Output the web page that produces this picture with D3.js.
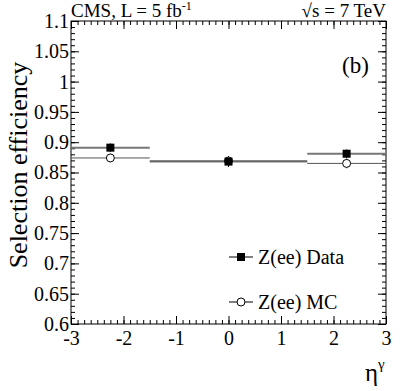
<!DOCTYPE html>
<html>
<head>
<meta charset="utf-8">
<script src="https://cdn.jsdelivr.net/npm/d3@7"></script>
<style>
body { margin: 0; background: #fff; }
svg text { font-family: "Liberation Serif", "DejaVu Serif", serif !important; fill: #000; }
</style>
</head>
<body>
<svg width="407" height="391"></svg>
<script>
// bins in eta^gamma
var binLow = [-3, -1.5, 1.5],
    binHigh = [-1.5, 1.5, 3],
    binCenter = [-2.25, 0, 2.25];

var dataEff = [0.891, 0.868, 0.881],
    dataErr = [0.007, 0.009, 0.007];
var mcEff = [0.874, 0.869, 0.865],
    mcErr = [0.007, 0.008, 0.008];

var xTicks = [-3, -2, -1, 0, 1, 2, 3];
var xLabels = ["-3", "-2", "-1", "0", "1", "2", "3"];
var yTicks = [0.6, 0.65, 0.7, 0.75, 0.8, 0.85, 0.9, 0.95, 1, 1.05, 1.1];
var yLabels = ["0.6", "0.65", "0.7", "0.75", "0.8", "0.85", "0.9", "0.95", "1", "1.05", "1.1"];

var svg = d3.select("svg"),
    margin = {top: 21, right: 21, bottom: 67, left: 71},
    width = svg.attr("width") - margin.left - margin.right,
    height = svg.attr("height") - margin.top - margin.bottom,
    g = svg.append("g").attr("transform", "translate(" + margin.left + "," + margin.top + ")");

var scaleX = d3.scaleLinear().domain([-3, 3]).range([0, width]),
    scaleY = d3.scaleLinear().domain([0.6, 1.1]).range([height, 0]);

var minorX = d3.range(-3, 3.0001, 0.125),
    minorY = d3.range(0.6, 1.1001, 0.01);

// axes: bottom/left with labels, top/right mirrored (ticks point inwards)
function drawAxis(axisFn, scale, majors, minors, transform, labels) {
    var a = g.append("g").attr("transform", transform);
    a.call(axisFn(scale).tickValues(minors).tickSize(4).tickFormat(""));
    var b = g.append("g").attr("transform", transform);
    b.call(axisFn(scale).tickValues(majors).tickSize(8).tickPadding(2)
        .tickFormat(function (d, i) { return labels ? labels[i] : ""; }));
    [a, b].forEach(function (s) {
        s.attr("font-family", null);
        s.select(".domain").remove();
        s.selectAll("line").attr("stroke", "#000");
    });
    b.selectAll("text").style("font-size", "20px").attr("fill", "#000");
    return b;
}

var ax = drawAxis(function (s) { return d3.axisTop(s); }, scaleX, xTicks, minorX, "translate(0," + height + ")", xLabels);
ax.selectAll("text").attr("dy", "0.95em").attr("y", 2);
drawAxis(function (s) { return d3.axisBottom(s); }, scaleX, xTicks, minorX, "translate(0,0)", null);
var ay = drawAxis(function (s) { return d3.axisRight(s); }, scaleY, yTicks, minorY, "translate(0,0)", yLabels);
ay.selectAll("text").attr("x", -2).attr("text-anchor", "end");
drawAxis(function (s) { return d3.axisLeft(s); }, scaleY, yTicks, minorY, "translate(" + width + ",0)", null);

g.append("rect").attr("width", width).attr("height", height)
    .attr("fill", "none").attr("stroke", "#000").attr("stroke-width", 1);

// horizontal bin lines
var idx = d3.range(binCenter.length);
g.selectAll(".dataBin").data(idx).enter().append("line")
    .attr("x1", function (i) { return scaleX(binLow[i]); })
    .attr("x2", function (i) { return scaleX(binHigh[i]); })
    .attr("y1", function (i) { return scaleY(dataEff[i]); })
    .attr("y2", function (i) { return scaleY(dataEff[i]); })
    .attr("stroke", "#777").attr("stroke-width", 2);
g.selectAll(".mcBin").data(idx).enter().append("line")
    .attr("x1", function (i) { return scaleX(binLow[i]); })
    .attr("x2", function (i) { return scaleX(binHigh[i]); })
    .attr("y1", function (i) { return scaleY(mcEff[i]); })
    .attr("y2", function (i) { return scaleY(mcEff[i]); })
    .attr("stroke", "#555").attr("stroke-width", 1);

// error bars
function errBars(vals, errs) {
    g.selectAll(null).data(idx).enter().append("line")
        .attr("x1", function (i) { return scaleX(binCenter[i]); })
        .attr("x2", function (i) { return scaleX(binCenter[i]); })
        .attr("y1", function (i) { return scaleY(vals[i] - errs[i]); })
        .attr("y2", function (i) { return scaleY(vals[i] + errs[i]); })
        .attr("stroke", "#000").attr("stroke-width", 1);
}
errBars(mcEff, mcErr);
errBars(dataEff, dataErr);

g.selectAll(".mcPt").data(idx).enter().append("circle")
    .attr("cx", function (i) { return scaleX(binCenter[i]); })
    .attr("cy", function (i) { return scaleY(mcEff[i]); })
    .attr("r", 4).attr("fill", "#fff").attr("stroke", "#000");
g.selectAll(".dataPt").data(idx).enter().append("rect")
    .attr("x", function (i) { return scaleX(binCenter[i]) - 4; })
    .attr("y", function (i) { return scaleY(dataEff[i]) - 4; })
    .attr("width", 8).attr("height", 8).attr("fill", "#000");

// legend
var leg = svg.append("g").attr("transform", "translate(229,257)");
leg.append("line").attr("x1", 0).attr("x2", 24).attr("stroke", "#000");
leg.append("rect").attr("x", 8).attr("y", -4).attr("width", 8).attr("height", 8).attr("fill", "#000");
leg.append("text").attr("x", 29).attr("dy", "0.35em").style("font-size", "20px").text("Z(ee) Data");
var leg2 = svg.append("g").attr("transform", "translate(229,302)");
leg2.append("line").attr("x1", 0).attr("x2", 24).attr("stroke", "#000");
leg2.append("circle").attr("cx", 12).attr("r", 4).attr("fill", "#fff").attr("stroke", "#000");
leg2.append("text").attr("x", 29).attr("dy", "0.35em").style("font-size", "20px").text("Z(ee) MC");

// labels
svg.append("text").attr("x", 342).attr("y", 73).style("font-size", "23px").text("(b)");

var hdr = svg.append("text").attr("x", 71).attr("y", 17).style("font-size", "19px");
hdr.append("tspan").text("CMS, L = 5 fb");
hdr.append("tspan").attr("dy", -7).style("font-size", "12px").text("-1");

svg.append("text").attr("x", 386).attr("y", 17).attr("text-anchor", "end")
    .style("font-size", "19px").text("\u221As = 7 TeV");

svg.append("text").attr("transform", "translate(27,165) rotate(-90)")
    .attr("text-anchor", "middle").style("font-size", "26px").text("Selection efficiency");

var xt = svg.append("text").attr("x", 365).attr("y", 381).style("font-size", "25px");
xt.append("tspan").text("\u03B7");
xt.append("tspan").attr("dy", -12).style("font-size", "15px").text("\u03B3");
</script>
</body>
</html>
